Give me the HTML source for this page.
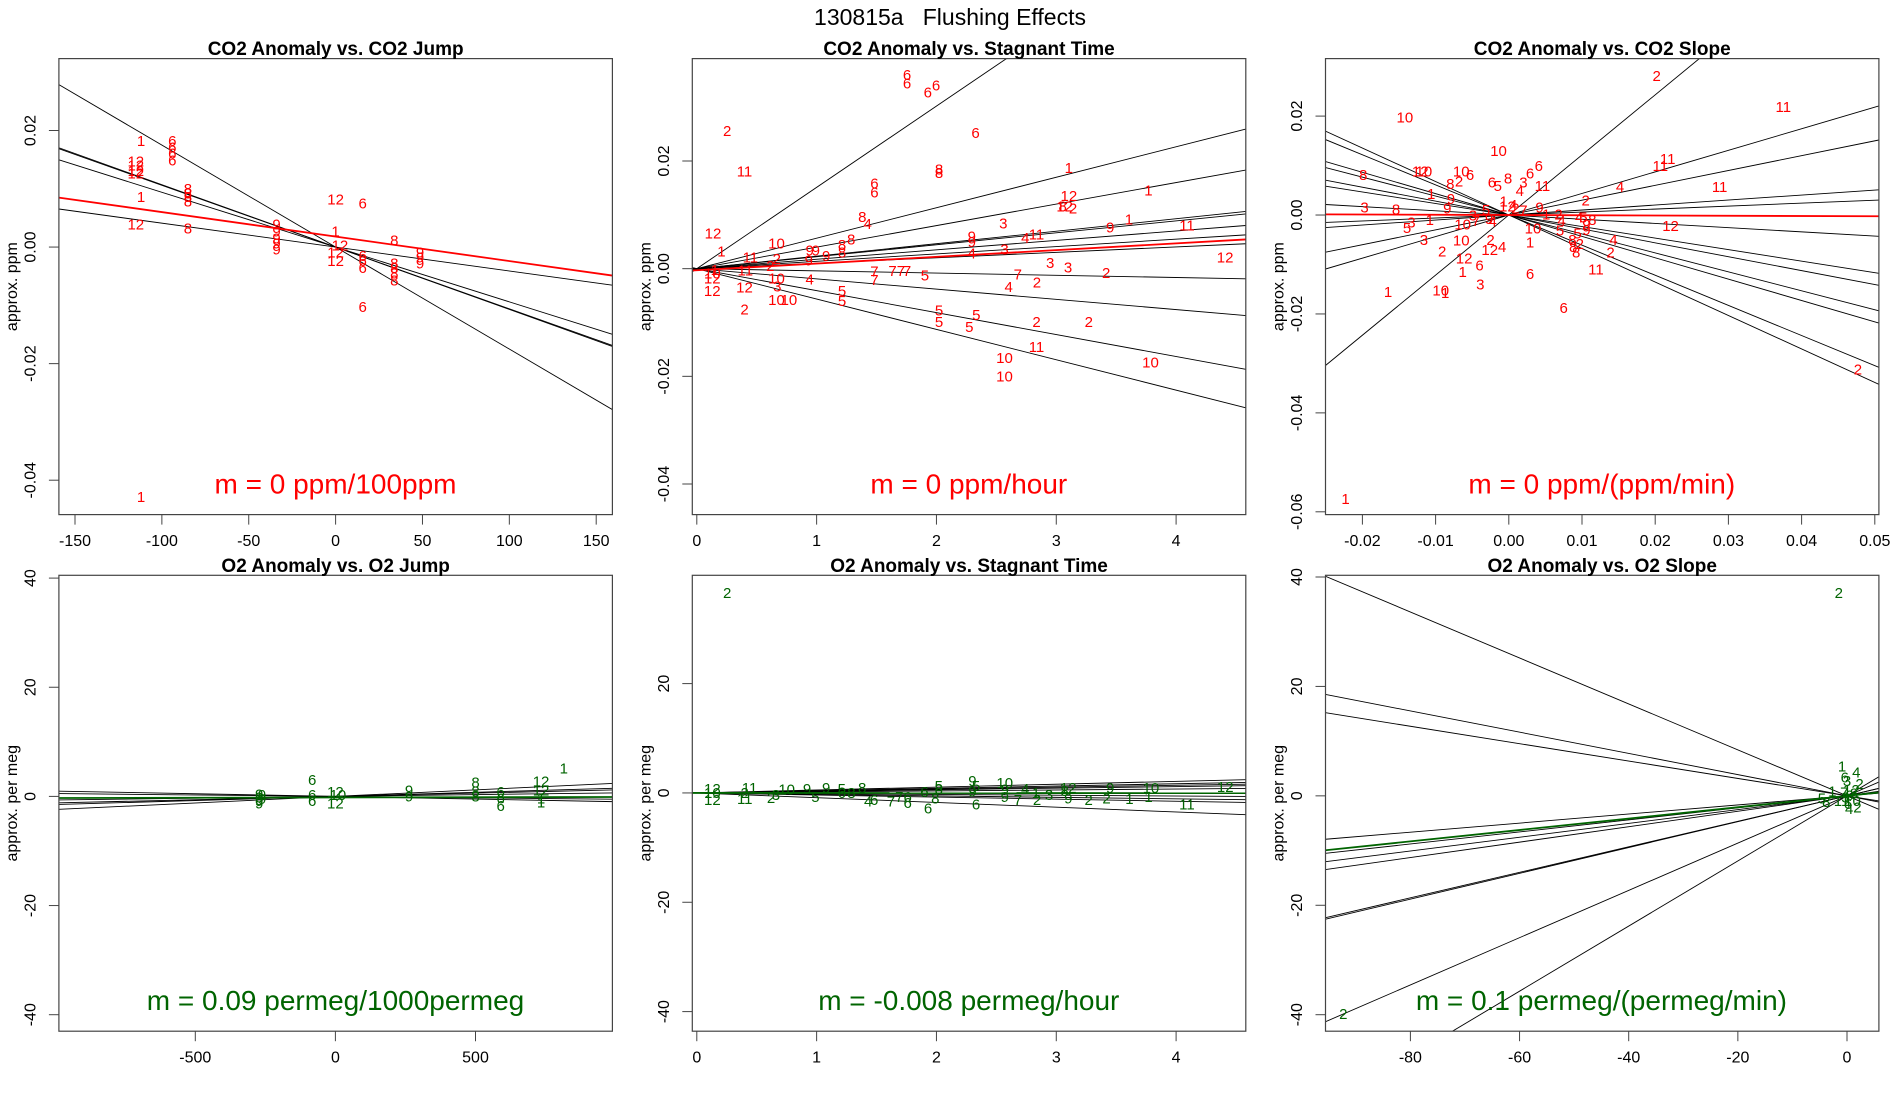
<!DOCTYPE html>
<html><head><meta charset="utf-8"><style>
html,body{margin:0;padding:0;background:#fff;}
svg{display:block;font-family:"Liberation Sans",Arial,sans-serif;}
</style></head><body>
<svg id="chart" width="1900" height="1100" viewBox="0 0 1900 1100" xmlns="http://www.w3.org/2000/svg">
<rect width="1900" height="1100" fill="#fff"/>
<text x="950" y="17" font-size="23" text-anchor="middle" dominant-baseline="central" xml:space="preserve">130815a   Flushing Effects</text>
</svg>
<script>
// ---------- data arrays ----------
// Panel 1: CO2 Anomaly vs CO2 Jump
const p1Labels = ["1","1","12","12","12","12","12","1","6","6","6","6","8","8","8","8","8","9","9","9","9","9","12","6","1","12","12","12","6","6","6","6","8","8","8","8","8","9","9","9"];
const p1X = [-112,-112,-115,-115,-115,-115,-115,-112,-94,-94,-94,-94,-85,-85,-85,-85,-85,-34,-34,-34,-34,-34,0,15.6,0,2.5,0,0,15.6,15.6,15.6,15.6,33.8,33.8,33.8,33.8,33.8,48.6,48.6,48.6];
const p1Y = [0.0181,0.0085,0.0146,0.0139,0.0130,0.0125,0.0038,-0.0430,0.0181,0.0170,0.0160,0.0148,0.0099,0.0091,0.0085,0.0077,0.0031,0.0038,0.0026,0.0014,0.0005,-0.0005,0.0081,0.0074,0.0026,0.0002,-0.0010,-0.0025,-0.0016,-0.0025,-0.0037,-0.0104,0.0010,-0.0029,-0.0037,-0.0046,-0.0058,-0.0010,-0.0019,-0.0029];
const p1Slopes = [-1.75e-4,-1.06e-4,-1.07e-4,-0.94e-4,-0.41e-4];
const p1Intercepts = [0,0,0,0,0];
const p1FitSlope = -4.2e-5, p1FitIntercept = 0.0018;
const p1XTicks = [-150,-100,-50,0,50,100,150];
const p1YTicks = [0.02,0.00,-0.02,-0.04];
const p1YTickLabels = ["0.02","0.00","-0.02","-0.04"];

// Panel 2: CO2 Anomaly vs Stagnant Time
const p2Labels = ["6","6","6","6","2","6","11","8","8","1","6","6","1","12","12","8","2","8","4","3","1","9","11","4","11","12","1","10","8","8","8","9","9","4","3","9","9","9","9","11","2","2","3","3","12","7","7","7","7","7","5","7","2","11","4","2","10","3","4","5","5","12","12","12","10","10","2","5","5","5","5","2","2","11","10","10","10","10","1"];
const p2X = [1.755,1.755,1.928,1.997,0.253,2.326,0.398,2.022,2.022,3.105,1.482,1.482,3.769,3.105,3.07,3.053,3.14,1.381,1.426,2.558,3.606,3.45,4.091,2.741,2.835,0.135,0.205,0.665,1.288,1.212,1.212,2.295,2.295,2.295,2.568,0.942,0.993,1.080,0.935,0.447,0.668,0.613,2.949,3.098,4.409,1.482,1.634,1.703,1.755,1.482,1.904,2.679,3.416,0.405,0.942,2.838,0.665,0.672,2.603,1.212,1.212,0.129,0.129,0.398,0.665,0.769,0.398,2.022,2.022,2.333,2.274,2.835,3.271,2.835,2.568,2.568,3.786,0.13,0.15];
const p2Y = [0.0359,0.0343,0.0326,0.0339,0.0255,0.0251,0.0180,0.0183,0.0177,0.0186,0.0157,0.0141,0.0144,0.0134,0.0115,0.0115,0.0111,0.0095,0.0082,0.0083,0.0090,0.0076,0.0079,0.0056,0.0063,0.0064,0.0031,0.0046,0.0053,0.0043,0.0029,0.0059,0.0049,0.0027,0.0035,0.0033,0.0033,0.0023,0.0014,0.0020,0.0017,0.0004,0.0010,0.0001,0.0020,-0.0006,-0.0005,-0.0005,-0.0005,-0.0022,-0.0014,-0.0012,-0.0009,-0.0004,-0.0021,-0.0027,-0.0019,-0.0034,-0.0035,-0.0042,-0.0061,-0.0019,-0.0042,-0.0036,-0.0059,-0.0059,-0.0077,-0.0079,-0.0100,-0.0087,-0.0109,-0.0100,-0.0100,-0.0146,-0.0167,-0.0201,-0.0175,-0.0010,-0.0003];
const p2Slopes = [0.0151,0.00566,0.00400,0.00232,0.00222,0.00175,0.00137,0.00101,-0.00041,-0.0019,-0.00408,-0.00564];
const p2Intercepts = [0,0,0,0,0,0,0,0,0,0,0,0];
const p2FitSlope = 0.00125, p2FitIntercept = -0.0003;
const p2XTicks = [0,1,2,3,4];
const p2YTicks = [0.02,0.00,-0.02,-0.04];
const p2YTickLabels = ["0.02","0.00","-0.02","-0.04"];

// Panel 3: CO2 Anomaly vs CO2 Slope
const p3Labels = ["2","11","10","10","11","11","6","8","12","10","10","6","8","2","6","5","8","6","3","4","11","4","11","2","1","9","3","8","9","1","3","5","10","7","3","5","9","4","1","12","4","2","7","9","1","2","4","10","5","4","5","8","9","9","5","12","3","10","2","12","4","1","2","12","6","1","4","8","8","2","8","2","11","6","1","10","1","3","6","2","1"];
const p3X = [0.0202,0.0375,-0.0142,-0.0014,0.0217,0.0207,0.0041,-0.0199,-0.0121,-0.0116,-0.0065,-0.0053,-0.0080,-0.0068,-0.0023,-0.0015,-0.0001,0.0029,0.0020,0.0015,0.0046,0.0152,0.0288,0.0105,-0.0106,-0.0079,-0.0197,-0.0154,-0.0084,-0.0108,-0.0133,-0.0139,-0.0063,-0.0045,-0.0049,-0.0031,-0.0027,-0.0022,-0.0007,-0.0002,0.0006,0.0009,0.0020,0.0042,0.0051,0.0068,0.0072,0.0033,0.0070,0.0096,0.0102,0.0114,0.0106,0.0106,0.0094,0.0221,-0.0116,-0.0065,-0.0025,-0.0026,-0.0009,0.0029,-0.0091,-0.0061,-0.0040,-0.0063,0.0143,0.0087,0.0088,0.0097,0.0092,0.0139,0.0119,0.0029,-0.0165,-0.0093,-0.0087,-0.0039,0.0075,0.0477,-0.0223];
const p3Y = [0.0280,0.0217,0.0196,0.0128,0.0112,0.0098,0.0098,0.0080,0.0087,0.0087,0.0087,0.0080,0.0062,0.0067,0.0065,0.0058,0.0073,0.0083,0.0065,0.0048,0.0058,0.0056,0.0056,0.0028,0.0041,0.0031,0.0014,0.0010,0.0012,-0.0011,-0.0016,-0.0027,-0.0020,-0.0013,-0.0002,0.0009,-0.0009,-0.0014,0.0026,0.0016,0.0019,0.0012,0.0008,0.0014,0.0000,0.0000,-0.0013,-0.0028,-0.0032,-0.0006,-0.0006,-0.0011,-0.0020,-0.0031,-0.0038,-0.0023,-0.0052,-0.0053,-0.0052,-0.0072,-0.0066,-0.0057,-0.0075,-0.0089,-0.0103,-0.0116,-0.0052,-0.0052,-0.0066,-0.0060,-0.0077,-0.0077,-0.0111,-0.0120,-0.0157,-0.0154,-0.0159,-0.0141,-0.0189,-0.0313,-0.0575];
const p3Slopes = [1.215,0.436,0.300,0.101,0.060,-0.085,-0.233,-0.281,-0.383,-0.432,-0.609,-0.677];
const p3Intercepts = [0,0,0,0,0,0,0,0,0,0,0,0];
const p3FitSlope = -0.005, p3FitIntercept = 0;
const p3XTicks = [-0.02,-0.01,0.00,0.01,0.02,0.03,0.04,0.05];
const p3XTickLabels = ["-0.02","-0.01","0.00","0.01","0.02","0.03","0.04","0.05"];
const p3YTicks = [0.02,0.00,-0.02,-0.04,-0.06];
const p3YTickLabels = ["0.02","0.00","-0.02","-0.04","-0.06"];

// Panel 4: O2 Anomaly vs O2 Jump
const p4Labels = ["9","9","9","9","9","9","6","6","6","12","12","10","9","9","8","8","8","6","6","6","12","12","1","1","1"];
const p4X = [-272,-272,-272,-272,-262,-262,-83,-83,-83,0,0,9,263,263,500,500,500,590,590,590,734,734,734,734,815];
const p4Y = [0.3,-0.3,-0.9,-1.4,0.2,-0.6,2.95,0.19,-0.96,0.7,-1.4,0.2,0.96,-0.13,2.44,0.83,-0.13,0.7,-0.45,-1.86,2.63,0.96,-0.45,-1.2,5.0];
const p4Slopes = [-0.00097,-0.00052,0.00065,0.0012,0.0024,0.0015];
const p4Intercepts = [0,0,0,0,0,0];
const p4FitSlope = 0.00009, p4FitIntercept = -0.2;
const p4XTicks = [-500,0,500];
const p4YTicks = [40,20,0,-20,-40];

// Panel 5: O2 Anomaly vs Stagnant Time
const p5Labels = ["2","12","10","12","11","11","2","2","10","3","9","5","9","5","6","8","8","4","6","7","7","6","6","6","6","8","5","8","9","5","9","6","10","9","9","4","7","2","1","3","12","8","9","2","2","1","9","10","1","11","12"];
const p5X = [0.253,0.13,0.13,0.13,0.44,0.40,0.40,0.62,0.75,0.66,0.92,0.99,1.08,1.21,1.21,1.29,1.38,1.43,1.48,1.62,1.69,1.76,1.76,1.90,1.93,1.99,2.02,2.02,2.30,2.33,2.30,2.33,2.57,2.57,2.57,2.74,2.68,2.84,2.83,2.94,3.10,3.07,3.10,3.27,3.42,3.61,3.45,3.79,3.77,4.09,4.41];
const p5Y = [36.5,0.6,-0.1,-1.4,0.8,-1.2,-0.1,-1.0,0.5,-0.45,0.6,-0.8,0.8,0.6,-0.1,-0.1,0.8,-1.7,-1.4,-1.7,-0.8,-1.9,-0.8,0.1,-2.9,-1.1,1.15,0.6,2.1,1.15,0.2,-2.2,1.7,0.5,-0.8,0.6,-1.4,-1.4,-0.1,-0.45,0.8,0.3,-1.1,-1.4,-1.1,-1.2,0.8,0.8,-0.8,-2.2,1.0];
const p5Slopes = [0.53,0.42,0.35,0.29,0.18,-0.14,-0.27,-0.38,-0.87];
const p5Intercepts = [0,0,0,0,0,0,0,0,0];
const p5FitSlope = -0.008, p5FitIntercept = 0;
const p5XTicks = [0,1,2,3,4];
const p5YTicks = [20,0,-20,-40];

// Panel 6: O2 Anomaly vs O2 Slope
const p6Labels = ["2","2","1","4","2","6","3","5","8","4","2","1","9","7","10","11","12","3","6","8"];
const p6X = [-1.5,-92.3,-0.9,1.7,2.3,-0.4,0,-4.6,-3.8,0.4,1.9,-2.7,0.5,-0.5,1.0,-1.0,0.8,-0.3,0.2,1.3];
const p6Y = [37.0,-40.0,5.3,4.2,2.1,3.3,2.6,-0.6,-1.2,-2.5,-2.2,0.7,0,0.5,-1.0,-1.0,1.0,-0.4,-1.6,0.3];
const p6Slopes = [-0.42,-0.194,-0.159,0.083,0.110,0.126,0.141,0.233,0.236,0.432,0.595];
const p6Intercepts = [0,0,0,0,0,0,0,0,0,0,0];
const p6FitSlope = 0.104, p6FitIntercept = 0;
const p6XTicks = [-80,-60,-40,-20,0];
const p6YTicks = [40,20,0,-20,-40];

// ---------- drawing ----------
const NS = "http://www.w3.org/2000/svg";
const svgEl = document.getElementById("chart");
function mk(tag, attrs, parent){
  const e = document.createElementNS(NS, tag);
  for (const k in attrs) e.setAttribute(k, attrs[k]);
  (parent||svgEl).appendChild(e);
  return e;
}
function lin(v0,p0,v1,p1){ const k=(p1-p0)/(v1-v0); return v=>p0+(v-v0)*k; }

function panel(o){
  const g = mk("g",{});
  
  
  const sx = lin(o.xc[0],o.xc[1],o.xc[2],o.xc[3]);
  const sy = lin(o.yc[0],o.yc[1],o.yc[2],o.yc[3]);
  const inv = p=>o.xc[0]+(p-o.xc[1])*(o.xc[2]-o.xc[0])/(o.xc[3]-o.xc[1]);
  const b = o.box;
  const cid = "clip-"+o.name;
  const cp = mk("clipPath",{id:cid},g);
  mk("rect",{x:b.l,y:b.t,width:b.r-b.l,height:b.b-b.t},cp);
  const plot = mk("g",{"clip-path":"url(#"+cid+")"},g);
  const x0 = inv(b.l), x1 = inv(b.r);
  o.slopes.forEach((s,i)=>{
    const a = o.ints[i];
    const l = mk("line",{x1:b.l,y1:sy(a+s*x0),x2:b.r,y2:sy(a+s*x1),stroke:"#000","stroke-width":0.9},plot);
    
    
  });
  const fl = mk("line",{x1:b.l,y1:sy(o.fitI+o.fitS*x0),x2:b.r,y2:sy(o.fitI+o.fitS*x1),stroke:o.color,"stroke-width":1.8},plot);
  
  
  o.labels.forEach((lab,i)=>{
    if (o.xs[i]===undefined || o.ys[i]===undefined) return;
    const t = mk("text",{x:sx(o.xs[i]),y:sy(o.ys[i]),fill:o.color,"font-size":15,"text-anchor":"middle","dominant-baseline":"central"},plot);
    t.textContent = lab;
    
    
  });
  const fr = mk("rect",{x:b.l,y:b.t,width:b.r-b.l,height:b.b-b.t,fill:"none",stroke:"#444","stroke-width":1.2},g);
  
  
  o.xt.forEach((v,i)=>{
    const x = sx(v);
    const tk = mk("line",{x1:x,y1:b.b,x2:x,y2:b.b+10,stroke:"#444","stroke-width":1},g);
    
    
    const t = mk("text",{x:x,y:b.b+27,"font-size":16,"text-anchor":"middle","dominant-baseline":"central"},g);
    t.textContent = o.xtl ? o.xtl[i] : String(v);
    
    
  });
  o.yt.forEach((v,i)=>{
    const y = sy(v);
    const tk = mk("line",{x1:b.l-10,y1:y,x2:b.l,y2:y,stroke:"#444","stroke-width":1},g);
    
    
    const tx = b.l-28;
    const t = mk("text",{x:tx,y:y,"font-size":16,"text-anchor":"middle","dominant-baseline":"central",transform:"rotate(-90 "+tx+" "+y+")"},g);
    t.textContent = o.ytl ? o.ytl[i] : String(v);
    
    
  });
  const yx = b.l-46.5, yy=(b.t+b.b)/2;
  const yl = mk("text",{x:yx,y:yy,"font-size":16,"text-anchor":"middle","dominant-baseline":"central",transform:"rotate(-90 "+yx+" "+yy+")"},g);
  yl.textContent = o.ylab;
  
  
  const ti = mk("text",{x:(b.l+b.r)/2,y:b.t-9,"font-size":19,"font-weight":"bold","text-anchor":"middle","dominant-baseline":"central"},g);
  ti.textContent = o.title;
  
  
  const an = mk("text",{x:o.annX,y:o.annY,"font-size":28,fill:o.color,"text-anchor":"middle","dominant-baseline":"central"},g);
  an.textContent = o.ann;
  
  
}
const RED="#ff0000", GREEN="#006400";
const topRow={t:58.6,b:514.6}, botRow={t:575.3,b:1031.2};
panel({name:"co2-vs-jump",title:"CO2 Anomaly vs. CO2 Jump",ylab:"approx. ppm",color:RED,box:{l:58.9,r:612.4,t:topRow.t,b:topRow.b},
  xc:[-150,75.0,150,596.2],yc:[0.02,130.5,-0.04,480.2],labels:p1Labels,xs:p1X,ys:p1Y,slopes:p1Slopes,ints:p1Intercepts,fitS:p1FitSlope,fitI:p1FitIntercept,
  xt:p1XTicks,yt:p1YTicks,ytl:p1YTickLabels,ann:"m = 0 ppm/100ppm",annX:335.5,annY:484});
panel({name:"co2-vs-stagnant-time",title:"CO2 Anomaly vs. Stagnant Time",ylab:"approx. ppm",color:RED,box:{l:692.3,r:1245.8,t:topRow.t,b:topRow.b},
  xc:[0,696.8,4,1176.1],yc:[0.02,161,-0.04,484],labels:p2Labels,xs:p2X,ys:p2Y,slopes:p2Slopes,ints:p2Intercepts,fitS:p2FitSlope,fitI:p2FitIntercept,
  xt:p2XTicks,yt:p2YTicks,ytl:p2YTickLabels,ann:"m = 0 ppm/hour",annX:968.8,annY:484});
panel({name:"co2-vs-slope",title:"CO2 Anomaly vs. CO2 Slope",ylab:"approx. ppm",color:RED,box:{l:1325.5,r:1878.9,t:topRow.t,b:topRow.b},
  xc:[-0.02,1362.4,0.05,1874.8],yc:[0.02,116.1,-0.06,511.8],labels:p3Labels,xs:p3X,ys:p3Y,slopes:p3Slopes,ints:p3Intercepts,fitS:p3FitSlope,fitI:p3FitIntercept,
  xt:p3XTicks,xtl:p3XTickLabels,yt:p3YTicks,ytl:p3YTickLabels,ann:"m = 0 ppm/(ppm/min)",annX:1601.8,annY:484});
panel({name:"o2-vs-jump",title:"O2 Anomaly vs. O2 Jump",ylab:"approx. per meg",color:GREEN,box:{l:58.9,r:612.4,t:botRow.t,b:botRow.b},
  xc:[-500,195.3,500,475.5],yc:[40,578.1,-40,1014.7],labels:p4Labels,xs:p4X,ys:p4Y,slopes:p4Slopes,ints:p4Intercepts,fitS:p4FitSlope,fitI:p4FitIntercept,
  xt:p4XTicks,yt:p4YTicks,ann:"m = 0.09 permeg/1000permeg",annX:335.5,annY:1000.7});
panel({name:"o2-vs-stagnant-time",title:"O2 Anomaly vs. Stagnant Time",ylab:"approx. per meg",color:GREEN,box:{l:692.3,r:1245.8,t:botRow.t,b:botRow.b},
  xc:[0,696.8,4,1176.1],yc:[20,683.6,-40,1011.6],labels:p5Labels,xs:p5X,ys:p5Y,slopes:p5Slopes,ints:p5Intercepts,fitS:p5FitSlope,fitI:p5FitIntercept,
  xt:p5XTicks,yt:p5YTicks,ann:"m = -0.008 permeg/hour",annX:968.8,annY:1000.7});
panel({name:"o2-vs-slope",title:"O2 Anomaly vs. O2 Slope",ylab:"approx. per meg",color:GREEN,box:{l:1325.5,r:1878.9,t:botRow.t,b:botRow.b},
  xc:[-80,1410.4,0,1847],yc:[40,577,-40,1014.7],labels:p6Labels,xs:p6X,ys:p6Y,slopes:p6Slopes,ints:p6Intercepts,fitS:p6FitSlope,fitI:p6FitIntercept,
  xt:p6XTicks,yt:p6YTicks,ann:"m = 0.1 permeg/(permeg/min)",annX:1601.4,annY:1000.7});
</script>
</body></html>
